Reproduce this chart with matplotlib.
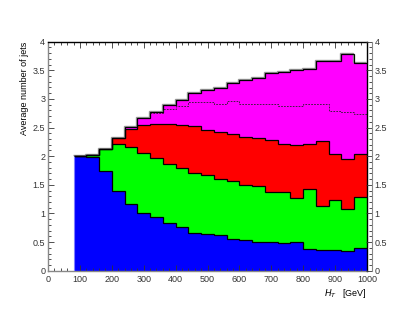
import numpy as np
import matplotlib
matplotlib.use("Agg")
import matplotlib.pyplot as plt
import matplotlib.transforms as mtransforms
from matplotlib.ticker import MultipleLocator, FormatStrFormatter

plt.rcParams['font.family'] = ['Liberation Sans', 'DejaVu Sans']

# bin edges in GeV (40 GeV bins from 80 to 1000)
edges = np.arange(80, 1001, 40)

# contribution of each jet category per bin (stacked, bottom to top)
blue = [2.00, 1.98, 1.75, 1.40, 1.165, 1.01, 0.93, 0.83, 0.76, 0.66, 0.635, 0.62,
        0.55, 0.54, 0.51, 0.50, 0.48, 0.50, 0.385, 0.36, 0.36, 0.35, 0.40]
green = [0.00, 0.04, 0.37, 0.81, 0.99, 1.04, 1.03, 1.03, 1.03, 1.04, 1.035, 0.99,
         1.01, 0.96, 0.975, 0.87, 0.90, 0.775, 1.045, 0.765, 0.875, 0.72, 0.89]
red = [0.00, 0.00, 0.00, 0.11, 0.32, 0.495, 0.60, 0.70, 0.75, 0.82, 0.79, 0.81,
       0.82, 0.84, 0.825, 0.91, 0.83, 0.925, 0.78, 1.135, 0.795, 0.875, 0.75]
magenta = [0.00, 0.00, 0.00, 0.00, 0.04, 0.115, 0.21, 0.33, 0.45, 0.58, 0.70, 0.77,
           0.90, 0.99, 1.06, 1.17, 1.26, 1.30, 1.31, 1.40, 1.64, 1.835, 1.58]

# dashed reference curve, from 320 GeV on
dash_start = 320
dashed = [2.75, 2.83, 2.88, 2.94, 2.94, 2.91, 2.96, 2.92, 2.92, 2.92, 2.88, 2.88,
          2.92, 2.92, 2.79, 2.77, 2.73]

series = [blue, green, red, magenta]
colors = ['#0000ff', '#00ff00', '#ff0000', '#ff00ff']
cum = np.cumsum(np.array(series), axis=0)

fig = plt.figure(figsize=(4.13, 3.19), dpi=100)
ax = fig.add_axes([48 / 413, 48.3 / 319, 319 / 413, 229 / 319])

# filled stack, top first
for top, col in reversed(list(zip(cum, colors))):
    ax.stairs(top, edges, fill=True, color=col, lw=0, zorder=1)

# grey shadow of the total, slightly offset
shadow = mtransforms.offset_copy(ax.transData, fig=fig, x=-1.0, y=1.0, units='dots')
ax.stairs(cum[-1], edges, baseline=None, color='#999999', lw=1.0,
          transform=shadow, zorder=2)

for top in cum:
    ax.stairs(top, edges, baseline=None, color='black', lw=0.9, zorder=3)

# thin pale edge on the left of the first bin
ax.vlines(edges[0], 0, cum[0][0], color='#8080ff', lw=0.8, zorder=3)

i0 = list(edges).index(dash_start)
ax.stairs(dashed, edges[i0:], baseline=None, color='#222222', lw=0.6,
          linestyle=(0, (2, 1.5)), zorder=3)

ax.set_xlim(0, 1000)
ax.set_ylim(0, 4)
ax.xaxis.set_major_locator(MultipleLocator(100))
ax.xaxis.set_minor_locator(MultipleLocator(20))
ax.yaxis.set_major_locator(MultipleLocator(0.5))
ax.yaxis.set_minor_locator(MultipleLocator(0.1))
ax.yaxis.set_major_formatter(FormatStrFormatter('%g'))

ax.tick_params(which='both', direction='in', top=True, right=False,
               labelsize=6.5, colors='#333333', pad=2)
ax.tick_params(which='major', length=4.5, width=0.6)
ax.tick_params(which='minor', length=2.5, width=0.6)
ax.tick_params(axis='x', pad=3)

for s in ['left', 'bottom']:
    ax.spines[s].set_color('#888888')
    ax.spines[s].set_linewidth(1.0)
for s in ['top', 'right']:
    ax.spines[s].set_color('black')
    ax.spines[s].set_linewidth(1.0)

# right-hand axis, offset a bit from the frame
ax2 = ax.twinx()
ax2.set_ylim(0, 4)
ax2.yaxis.set_major_locator(MultipleLocator(0.5))
ax2.yaxis.set_minor_locator(MultipleLocator(0.1))
ax2.yaxis.set_major_formatter(FormatStrFormatter('%g'))
ax2.spines['right'].set_position(('outward', 3.5))
ax2.spines['right'].set_color('#888888')
for s in ['left', 'top', 'bottom']:
    ax2.spines[s].set_visible(False)
ax2.tick_params(which='both', direction='in', labelsize=6.5, colors='#333333', pad=2)
ax2.tick_params(which='major', length=4.5, width=0.6)
ax2.tick_params(which='minor', length=2.5, width=0.6)

ax.set_ylabel('Average number of jets', fontsize=6.5, loc='top', labelpad=3)
ax.set_xlabel(r'$H_T$   [GeV]', fontsize=6.5, loc='right', labelpad=2)

fig.savefig('out.png', dpi=100)
